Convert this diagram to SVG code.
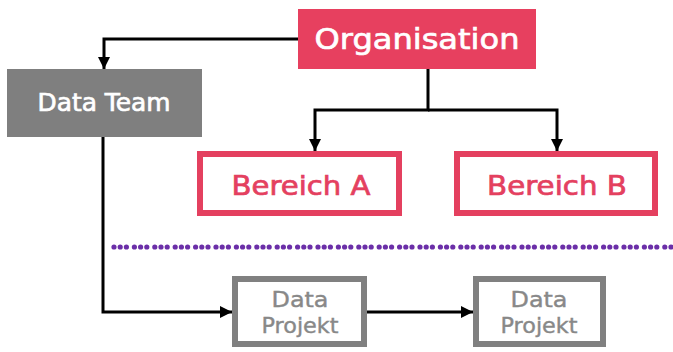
<svg xmlns="http://www.w3.org/2000/svg" width="673" height="352" viewBox="0 0 673 352">
  <style>
    .lbl { font-family: "DejaVu Sans", "Noto Sans", sans-serif; text-anchor: middle; stroke-width: 0.7; paint-order: stroke; }
    .org { fill: #E7405F; }
    .team { fill: #7F7F7F; }
    .area { fill: #FFFFFF; stroke: #E4405F; stroke-width: 6; }
    .proj { fill: #FFFFFF; stroke: #808080; stroke-width: 6; }
    .white { fill: #FFFFFF; stroke: #FFFFFF; }
    .pink { fill: #E4405F; stroke: #E4405F; }
    .grey { fill: #888888; stroke: #888888; stroke-width: 0.4; }
    .edge { fill: none; stroke: #000000; stroke-width: 3; marker-end: url(#arrow); }
    .divider { fill: none; stroke: #6B2FA8; stroke-width: 5.2; stroke-linecap: round; stroke-dasharray: 0 6.2 0 6.2 0 8; }
  </style>
  <defs>
    <marker id="arrow" markerUnits="userSpaceOnUse" markerWidth="12" markerHeight="12" refX="12" refY="6" orient="auto">
      <path d="M0,0 L12,6 L0,12 z" fill="#000000"/>
    </marker>
  </defs>

  <rect width="673" height="352" fill="#FFFFFF"/>

  <!-- connectors -->
  <g id="connectors">
    <path class="edge" d="M298,39 H104 V69"/>
    <path class="edge" d="M428,69 V110 H315 V151"/>
    <path class="edge" d="M428,110 H557 V151"/>
    <path class="edge" d="M103,137 V312 H232"/>
    <path class="edge" d="M367,312 H473"/>
  </g>

  <!-- separator -->
  <path class="divider" d="M114,247 H680"/>

  <g id="organisation">
    <rect class="org" x="298" y="9" width="238" height="60"/>
    <text class="lbl white" x="417" y="49" font-size="29" textLength="205" lengthAdjust="spacingAndGlyphs">Organisation</text>
  </g>

  <g id="data-team">
    <rect class="team" x="7" y="69" width="195" height="68"/>
    <text class="lbl white" x="104" y="111" font-size="25" textLength="133" lengthAdjust="spacingAndGlyphs">Data Team</text>
  </g>

  <g id="bereich-a">
    <rect class="area" x="200" y="154" width="199" height="59"/>
    <text class="lbl pink" x="301" y="195" font-size="27" textLength="139" lengthAdjust="spacingAndGlyphs">Bereich A</text>
  </g>

  <g id="bereich-b">
    <rect class="area" x="457" y="154" width="198" height="59"/>
    <text class="lbl pink" x="557" y="195" font-size="27" textLength="140" lengthAdjust="spacingAndGlyphs">Bereich B</text>
  </g>

  <g id="data-projekt-1">
    <rect class="proj" x="235" y="279" width="129" height="65"/>
    <text class="lbl grey" x="300" y="307" font-size="22" textLength="57" lengthAdjust="spacingAndGlyphs">Data</text>
    <text class="lbl grey" x="300" y="333" font-size="22" textLength="77" lengthAdjust="spacingAndGlyphs">Projekt</text>
  </g>

  <g id="data-projekt-2">
    <rect class="proj" x="476" y="279" width="127" height="65"/>
    <text class="lbl grey" x="539" y="307" font-size="22" textLength="57" lengthAdjust="spacingAndGlyphs">Data</text>
    <text class="lbl grey" x="539" y="333" font-size="22" textLength="77" lengthAdjust="spacingAndGlyphs">Projekt</text>
  </g>
</svg>
